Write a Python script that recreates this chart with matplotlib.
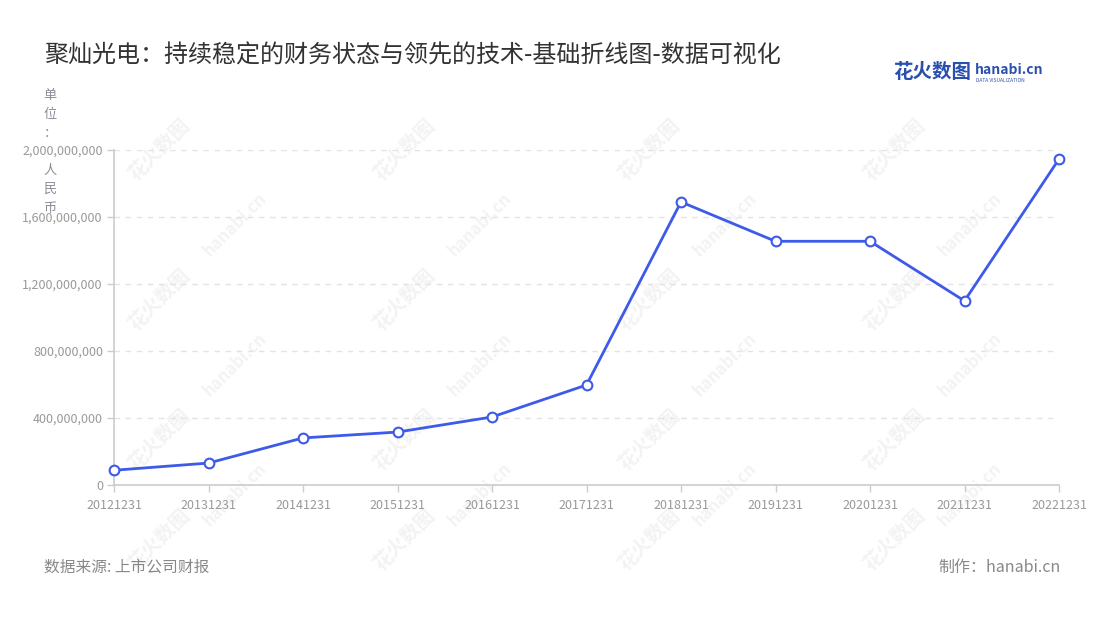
import matplotlib
matplotlib.use("Agg")
import matplotlib.pyplot as plt
import numpy as np

plt.rcParams['font.family'] = ['Noto Sans CJK SC', 'DejaVu Sans']

# data (unit: RMB)
dates = ["20121231", "20131231", "20141231", "20151231", "20161231", "20171231",
         "20181231", "20191231", "20201231", "20211231", "20221231"]
values = [88e6, 131e6, 281e6, 316e6, 406e6, 597e6,
          1690e6, 1455e6, 1455e6, 1099e6, 1946e6]
yticks = [0, 400e6, 800e6, 1200e6, 1600e6, 2000e6]

title = "聚灿光电：持续稳定的财务状态与领先的技术-基础折线图-数据可视化"
source = "数据来源: 上市公司财报"
maker = "制作：hanabi.cn"
unit_chars = ["单", "位", "：", "", "人", "民", "币"]

W, H = 1100, 620
fig = plt.figure(figsize=(11, 6.2), dpi=100)
fig.patch.set_facecolor("white")


def fx(px):
    return px / W


def fy(py):
    return 1 - py / H


# watermarks (faint, tiled, behind everything)
wm_color = "#f3f3f3"
for wy in [150, 300, 440, 540]:
    for wx in [160, 405, 650, 895]:
        fig.text(fx(wx), fy(wy), "花火数图", rotation=45, fontsize=14,
                 color=wm_color, ha="center", va="center", fontweight="bold", zorder=-5)
for wy in [225, 365, 495]:
    for wx in [235, 480, 725, 970]:
        fig.text(fx(wx), fy(wy), "hanabi.cn", rotation=45, fontsize=12,
                 color=wm_color, ha="center", va="center", fontweight="bold", zorder=-5)

ax = fig.add_axes([fx(114), fy(485), fx(1059) - fx(114), fy(150) - fy(485)])
ax.set_facecolor("none")
ax.set_zorder(2)

x = np.arange(len(dates))
ax.plot(x, values, color="#3d5ae8", linewidth=2.0, marker="o", markersize=7,
        markerfacecolor="white", markeredgecolor="#3d5ae8", markeredgewidth=1.5,
        zorder=3, clip_on=False)

ax.set_xlim(0, len(dates) - 1)
ax.set_ylim(0, 2000e6)
ax.set_xticks(x)
ax.set_xticklabels(dates)
ax.set_yticks(yticks)
ax.set_yticklabels([f"{int(v):,}" for v in yticks])

ax.grid(axis="y", color="#e3e3e3", linestyle=(0, (4, 4)), linewidth=1)
ax.set_axisbelow(True)
for s in ["top", "right"]:
    ax.spines[s].set_visible(False)
for s in ["left", "bottom"]:
    ax.spines[s].set_color("#cccccc")
    ax.spines[s].set_linewidth(1.2)
ax.tick_params(axis="both", colors="#cccccc", length=5, width=1)
ax.tick_params(axis="y", labelsize=9, labelcolor="#999999", pad=3)
ax.tick_params(axis="x", labelsize=9, labelcolor="#999999", pad=5)

# title
fig.text(fx(44), fy(55), title, fontsize=17.3, color="#333333", ha="left", va="center")

# unit label, vertical
for i, ch in enumerate(unit_chars):
    if ch:
        fig.text(fx(50), fy(96 + i * 18.7), ch, fontsize=9.5, color="#8c8c99",
                 ha="center", va="center")

# logo
fig.text(fx(893), fy(73), "花火数图", fontsize=14, color="#2a4fae",
         ha="left", va="center", fontweight="bold")
fig.text(fx(975), fy(70), "hanabi.cn", fontsize=10, color="#2a4fae",
         ha="left", va="center", fontweight="bold")
fig.text(fx(976), fy(80), "DATA VISUALIZATION", fontsize=3.5, color="#2a4fae",
         ha="left", va="center")

# footer
fig.text(fx(44), fy(567), source, fontsize=11.3, color="#888888", ha="left", va="center")
fig.text(fx(1061), fy(567), maker, fontsize=11.5, color="#888888", ha="right", va="center")

fig.savefig("out.png", dpi=100, facecolor="white")
plt.close(fig)
